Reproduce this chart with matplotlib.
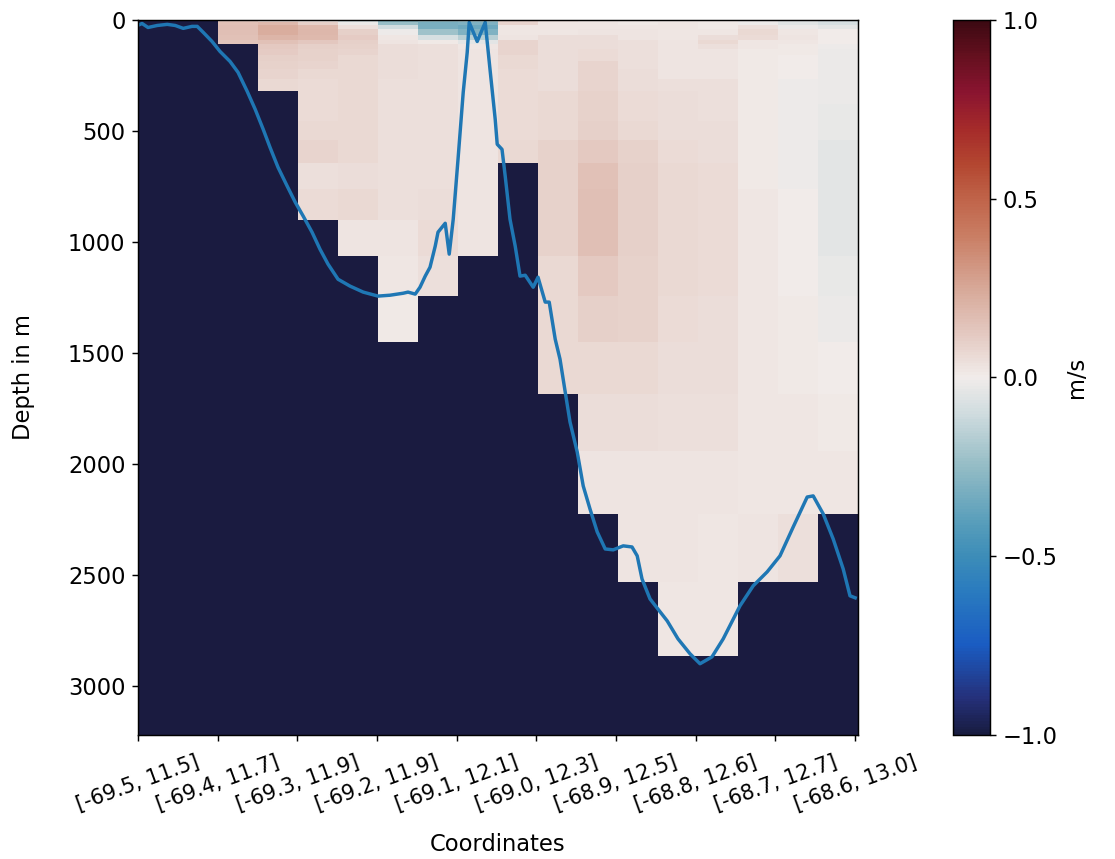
import matplotlib
matplotlib.use('Agg')
import matplotlib.pyplot as plt
import numpy as np
from matplotlib.colors import LinearSegmentedColormap

N = np.nan

# --- Data ---
# depth level edges (m)
depth_edges = [0.49, 9.57, 21.6, 40.3, 65.8, 92.3, 109.7, 130.7, 155.9, 186.1,
               222.5, 266.0, 318.1, 380.2, 453.9, 541.1, 643.6, 763.3, 902.3,
               1062.4, 1245.3, 1452.3, 1684.3, 1941.9, 2225.1, 2533.3, 2865.7, 3220.8]

# velocity (m/s), one row per depth cell, one column per station, NaN = seabed
velocity = [
    [N, N, 0.12, 0.06, 0.03, -0.08, -0.28, -0.25, -0.22, 0.10, 0.04, 0.02, 0.01, 0.01, 0.01, -0.02, -0.06, -0.10],
    [N, N, 0.15, 0.18, 0.10, -0.02, -0.24, -0.32, -0.30, 0.08, 0.02, 0.02, 0.01, 0.02, 0.01, -0.01, -0.05, -0.08],
    [N, N, 0.16, 0.23, 0.18, 0.04, -0.10, -0.32, -0.35, 0.02, 0.02, 0.02, 0.02, 0.02, 0.01, 0.04, -0.02, -0.04],
    [N, N, 0.16, 0.23, 0.19, 0.10, -0.01, -0.22, -0.30, 0.02, 0.02, 0.03, 0.03, 0.02, 0.02, 0.07, 0.02, 0.00],
    [N, N, 0.15, 0.20, 0.18, 0.11, 0.02, -0.08, -0.16, 0.03, 0.05, 0.05, 0.03, 0.02, 0.05, 0.06, 0.03, 0.00],
    [N, N, 0.14, 0.15, 0.13, 0.10, 0.03, 0.01, -0.04, 0.08, 0.05, 0.05, 0.04, 0.03, 0.07, 0.02, 0.02, 0.00],
    [N, N, N, 0.12, 0.10, 0.09, 0.05, 0.04, 0.02, 0.08, 0.05, 0.05, 0.04, 0.03, 0.04, 0.02, 0.01, -0.01],
    [N, N, N, 0.11, 0.09, 0.08, 0.05, 0.04, 0.03, 0.08, 0.05, 0.06, 0.04, 0.03, 0.03, 0.01, 0.01, -0.02],
    [N, N, N, 0.10, 0.09, 0.07, 0.05, 0.04, 0.03, 0.07, 0.05, 0.06, 0.04, 0.03, 0.03, 0.01, 0.00, -0.02],
    [N, N, N, 0.09, 0.08, 0.07, 0.05, 0.04, 0.03, 0.07, 0.05, 0.08, 0.04, 0.03, 0.03, 0.01, 0.00, -0.02],
    [N, N, N, 0.08, 0.07, 0.07, 0.05, 0.04, 0.03, 0.06, 0.05, 0.08, 0.05, 0.03, 0.03, 0.01, 0.00, -0.02],
    [N, N, N, 0.07, 0.06, 0.07, 0.04, 0.04, 0.03, 0.06, 0.05, 0.08, 0.05, 0.04, 0.04, 0.01, -0.01, -0.02],
    [N, N, N, N, 0.06, 0.07, 0.04, 0.04, 0.03, 0.06, 0.07, 0.09, 0.06, 0.05, 0.04, 0.01, -0.01, -0.02],
    [N, N, N, N, 0.06, 0.07, 0.04, 0.04, 0.03, 0.06, 0.07, 0.09, 0.06, 0.05, 0.04, 0.01, -0.01, -0.03],
    [N, N, N, N, 0.07, 0.07, 0.04, 0.04, 0.03, 0.06, 0.07, 0.10, 0.07, 0.05, 0.05, 0.01, -0.01, -0.03],
    [N, N, N, N, 0.08, 0.07, 0.04, 0.04, 0.03, 0.07, 0.09, 0.12, 0.09, 0.06, 0.05, 0.01, -0.01, -0.04],
    [N, N, N, N, 0.04, 0.05, 0.04, 0.04, 0.03, N, 0.09, 0.15, 0.10, 0.07, 0.06, 0.01, -0.01, -0.04],
    [N, N, N, N, 0.06, 0.07, 0.04, 0.05, 0.03, N, 0.09, 0.16, 0.10, 0.07, 0.06, 0.02, 0.00, -0.04],
    [N, N, N, N, N, 0.03, 0.03, 0.06, 0.03, N, 0.09, 0.16, 0.10, 0.07, 0.06, 0.02, 0.00, -0.04],
    [N, N, N, N, N, N, 0.02, 0.04, N, N, 0.07, 0.12, 0.09, 0.07, 0.06, 0.02, 0.00, -0.03],
    [N, N, N, N, N, N, 0.01, N, N, N, 0.07, 0.10, 0.09, 0.06, 0.05, 0.02, 0.01, -0.02],
    [N, N, N, N, N, N, N, N, N, N, 0.07, 0.07, 0.07, 0.05, 0.05, 0.02, 0.01, 0.00],
    [N, N, N, N, N, N, N, N, N, N, N, 0.05, 0.05, 0.04, 0.04, 0.02, 0.02, 0.01],
    [N, N, N, N, N, N, N, N, N, N, N, 0.03, 0.03, 0.03, 0.03, 0.02, 0.02, 0.02],
    [N, N, N, N, N, N, N, N, N, N, N, N, 0.03, 0.03, 0.02, 0.03, 0.04, N],
    [N, N, N, N, N, N, N, N, N, N, N, N, N, 0.02, 0.02, N, N, N],
    [N, N, N, N, N, N, N, N, N, N, N, N, N, N, N, N, N, N],
]

# bathymetry along the section (station units, m)
bathy_x = [0.05, 0.1, 0.25, 0.48, 0.73, 0.93, 1.13, 1.35, 1.48, 1.63, 1.85, 2.05, 2.3, 2.5,
           2.73, 2.93, 3.13, 3.3, 3.5, 3.73, 3.93, 4.13, 4.35, 4.55, 4.75, 5.0, 5.3, 5.63,
           6.0, 6.3, 6.63, 6.75, 6.93, 7.05, 7.18, 7.3, 7.43, 7.5, 7.68, 7.78, 7.88, 8.0,
           8.13, 8.23, 8.28, 8.48, 8.68, 8.8, 8.93, 8.98, 9.1, 9.18, 9.3, 9.43, 9.55, 9.68,
           9.88, 10.0, 10.18, 10.28, 10.43, 10.55, 10.68, 10.8, 10.98, 11.13, 11.3, 11.48,
           11.68, 11.88, 12.13, 12.35, 12.48, 12.6, 12.8, 13.23, 13.5, 13.8, 14.05, 14.35,
           14.63, 15.05, 15.38, 15.73, 16.05, 16.38, 16.73, 16.88, 17.13, 17.38, 17.63,
           17.8, 17.93]
bathy_depth = [20, 16, 34, 25, 20, 25, 38, 29, 29, 56, 97, 142, 187, 236,
               322, 403, 493, 574, 664, 749, 821, 884, 956, 1033, 1100, 1168, 1199, 1226,
               1244, 1240, 1231, 1226, 1235, 1204, 1154, 1114, 1019, 956, 916, 1055, 898, 628,
               326, 146, 11, 97, 11, 223, 448, 560, 583, 704, 898, 1019, 1154, 1150,
               1204, 1159, 1271, 1271, 1438, 1528, 1676, 1811, 1946, 2099, 2203, 2306,
               2383, 2387, 2369, 2374, 2414, 2518, 2608, 2707, 2788, 2855, 2900, 2869,
               2788, 2639, 2549, 2486, 2414, 2284, 2149, 2144, 2225, 2338, 2473,
               2594, 2603]

tick_labels = ['[-69.5, 11.5]', '[-69.4, 11.7]', '[-69.3, 11.9]', '[-69.2, 11.9]',
               '[-69.1, 12.1]', '[-69.0, 12.3]', '[-68.9, 12.5]', '[-68.8, 12.6]',
               '[-68.7, 12.7]', '[-68.6, 13.0]']

# approximation of cmocean "balance"
balance = LinearSegmentedColormap.from_list('balance', [
    (0.00, '#181c40'), (0.05, '#25307a'), (0.125, '#1a5cc2'), (0.20, '#2a7bbf'),
    (0.25, '#3d8db8'), (0.30, '#5a9fbb'), (0.375, '#94bcc5'), (0.45, '#d0dcdf'),
    (0.50, '#f1ecea'), (0.55, '#e6cfc8'), (0.625, '#d7a898'), (0.70, '#c97d63'),
    (0.75, '#c0644a'), (0.80, '#b34630'), (0.85, '#a52a2a'), (0.90, '#8a1430'),
    (0.95, '#65101f'), (1.00, '#3c0912')])
balance.set_bad('#1a1b40')

plt.rcParams['font.size'] = 12.5

# --- Plot ---
fig = plt.figure(figsize=(1115 / 130, 859 / 130), dpi=130)
ax = fig.add_axes([0.1238, 0.1444, 0.6457, 0.8324])
cax = fig.add_axes([0.8547, 0.1444, 0.0332, 0.8324])

vel = np.ma.masked_invalid(np.array(velocity))
station_edges = np.arange(vel.shape[1] + 1)
ax.set_facecolor('#1a1b40')
pcm = ax.pcolormesh(station_edges, depth_edges, vel, cmap=balance, vmin=-1, vmax=1)
ax.plot(bathy_x, bathy_depth, color='#1f77b4', lw=1.9)

ax.set_xlim(0, 18)
ax.set_ylim(3220.8, 0)
ax.set_xticks(np.linspace(0, 17.925, len(tick_labels)))
ax.set_xticklabels(tick_labels, rotation=20, fontsize=11.5)
ax.tick_params(axis='x', pad=6)
ax.set_yticks([0, 500, 1000, 1500, 2000, 2500, 3000])
ax.set_xlabel('Coordinates', labelpad=10)
ax.set_ylabel('Depth in m', labelpad=18)

cb = fig.colorbar(pcm, cax=cax)
cb.set_ticks([-1.0, -0.5, 0.0, 0.5, 1.0])
cb.set_label('m/s')

fig.savefig('out.png', dpi=130)
